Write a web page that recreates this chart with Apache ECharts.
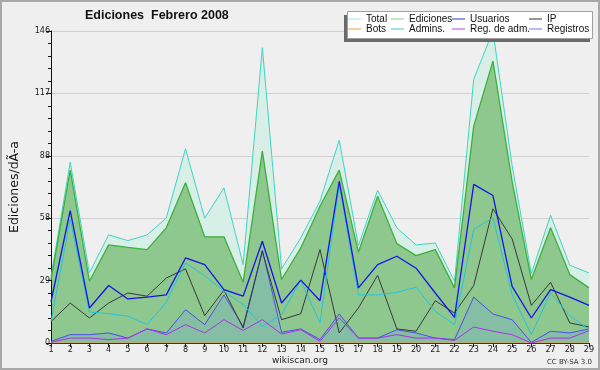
<!DOCTYPE html>
<html><head><meta charset="utf-8">
<script src="https://cdn.jsdelivr.net/npm/echarts@6/dist/echarts.min.js"></script>
<style>html,body{margin:0;padding:0;background:#efefef}#c{width:600px;height:370px}</style>
</head><body><div id="c"></div>
<script>
const days = ['1','2','3','4','5','6','7','8','9','10','11','12','13','14','15','16','17','18','19','20','21','22','23','24','25','26','27','28','29'];
const yTicks = [0, 29, 58, 88, 117, 146];
const total = [31, 84.6, 32.8, 50.6, 47.9, 50.6, 58.4, 90.9, 58.4, 72.6, 36.7, 138.2, 34.7, 49.2, 66.4, 94.9, 45.6, 71.5, 53.9, 45.9, 46.8, 28.9, 123.4, 146, 83, 32.5, 59.8, 36.4, 32.8];
const ediciones = [29.5, 80.9, 28.9, 45.9, 44.7, 43.7, 53.9, 75, 49.7, 49.7, 28.4, 89.8, 29.7, 44.5, 64, 80.9, 42.5, 68.7, 46.5, 40.9, 43.7, 25.8, 101.5, 131.9, 75.5, 29.7, 53.9, 32, 25.8];
const usuarios = [19.3, 62, 16.4, 26.9, 20.6, 21.5, 22.5, 39.8, 36.7, 25, 21.9, 47.6, 18.7, 29.4, 19.8, 75.7, 25.8, 36.7, 40.6, 35, 23.4, 12, 74.2, 69, 26.5, 11.7, 25, 21.5, 17.6];
const ip = [10, 18.7, 11.7, 18.7, 23.4, 21.9, 30.4, 34.7, 12.8, 24.7, 7, 42.9, 10.9, 13.7, 43.7, 4.7, 16.4, 31.7, 6.6, 5.5, 19.8, 14, 26.9, 62.8, 48.7, 17.6, 28.4, 9.4, 7.5];
const bots = [0,0,0,0,0,0,0,0,0,0,0,0,0,0,0,0,0,0,0,0,0,0,0,0,0,0,0,0,0];
const admins = [10, 58, 14.5, 13.7, 12.6, 8.6, 19, 37.5, 31.5, 24.2, 18, 7.8, 13.3, 29.4, 9.4, 74.2, 22.5, 22.5, 23.7, 26.1, 14.8, 8.6, 53.1, 58.6, 22.6, 3.9, 23.4, 12.8, 6.2];
const regAdm = [0.3, 2.3, 2.3, 1.6, 2.3, 6.6, 3.9, 8.6, 4.7, 10.9, 5.9, 10.9, 4.2, 6.2, 0.8, 11.7, 2.3, 2.3, 3.9, 2.3, 2.3, 1.2, 7.5, 5.5, 3.9, 0, 2.3, 2.3, 5.8];
const registros = [0.8, 3.9, 3.9, 4.7, 2.3, 6.6, 4.7, 15.6, 8.6, 22.5, 7.8, 43.5, 5, 6.6, 1.6, 13.6, 2.3, 2.3, 6.2, 4.7, 2.3, 1.6, 21.5, 13.6, 10.9, 0.3, 5.5, 4.7, 6.6];

const chart = echarts.init(document.getElementById('c'), null, {renderer:'canvas'});
const F = "'DejaVu Sans', sans-serif";
const FC = "'DejaVu Sans Condensed', 'DejaVu Sans', sans-serif";
function line(name, data, color, width, extra) {
  return Object.assign({
    name, type:'line', data, symbol:'none', smooth:false, animation:false,
    lineStyle:{color, width}, itemStyle:{color}, emphasis:{disabled:true}, silent:true
  }, extra||{});
}
const legendBase = {orient:'vertical', icon:'rect', itemWidth:13, itemHeight:1, itemGap:0, itemTextGap:4,
  padding:0, top:14, selectedMode:false, z:20,
  textStyle:{fontSize:10, lineHeight:10, fontFamily:"'Liberation Sans', sans-serif", color:'#111'}};
const option = {
  backgroundColor:'#efefef',
  animation:false,
  title:{text:'Ediciones  Febrero 2008', left:85, top:9, padding:0,
    textStyle:{fontSize:12.5, fontWeight:'bold', fontFamily:"'Liberation Sans', sans-serif", color:'#111'}},
  grid:{left:46, right:11, top:31, bottom:27, containLabel:false},
  legend:[
    Object.assign({}, legendBase, {left:348, data:[{name:'Total', itemStyle:{color:'#a4e4dc'}}, {name:'Bots', itemStyle:{color:'#f0a040'}}]}),
    Object.assign({}, legendBase, {left:391, data:[{name:'Ediciones', itemStyle:{color:'#88d088'}}, {name:'Admins.', itemStyle:{color:'#40c8e0'}}]}),
    Object.assign({}, legendBase, {left:452, data:[{name:'Usuarios', itemStyle:{color:'#3030e0'}}, {name:'Reg. de adm.', itemStyle:{color:'#c040e0'}}]}),
    Object.assign({}, legendBase, {left:529, data:[{name:'IP', itemStyle:{color:'#303030'}}, {name:'Registros', itemStyle:{color:'#7070f0'}}]})
  ],
  xAxis:{type:'category', data:days, boundaryGap:false, z:3,
    axisLine:{lineStyle:{color:'#111', width:1}},
    axisTick:{show:true, inside:false, length:4, interval:0, lineStyle:{color:'#111'}},
    axisLabel:{interval:0, margin:2, fontSize:9, fontFamily:FC, color:'#222'},
    splitLine:{show:false}},
  yAxis:{type:'value', min:0, max:146, interval:29.2, z:3,
    name:'Ediciones/dÃ-a', nameLocation:'middle', nameGap:30,
    nameTextStyle:{fontSize:12.5, fontFamily:F, color:'#111'},
    axisLine:{show:true, lineStyle:{color:'#111', width:1}},
    axisTick:{show:true, length:5, lineStyle:{color:'#111'}},
    minorTick:{show:true, splitNumber:5, length:3, lineStyle:{color:'#111'}},
    axisLabel:{margin:1, fontSize:8, fontFamily:F, color:'#222',
      formatter:function(v){ let best=yTicks[0]; for(const t of yTicks){ if(Math.abs(t-v)<Math.abs(best-v)) best=t; } return String(best); }},
    splitLine:{show:true, lineStyle:{color:'rgba(0,0,0,0.13)', width:1}}},
  graphic:[
    {type:'rect', z:10, shape:{x:344, y:15, width:246, height:27}, style:{fill:'#6a6a6a'}},
    {type:'rect', z:11, shape:{x:347.5, y:11.5, width:245, height:27}, style:{fill:'#ffffff', stroke:'#a0a0a0', lineWidth:1}},
    {type:'text', z:11, style:{text:'wikiscan.org', x:300, y:361, textAlign:'center', textVerticalAlign:'middle', font:"9px 'DejaVu Sans', sans-serif", fill:'#222'}},
    {type:'text', z:11, style:{text:'CC BY-SA 3.0', x:592, y:362, textAlign:'right', textVerticalAlign:'middle', font:"7px 'DejaVu Sans', sans-serif", fill:'#333'}},
    {type:'rect', z:30, shape:{x:1, y:1, width:598, height:368}, style:{fill:'none', stroke:'#a8a8a8', lineWidth:2}}
  ],
  series:[
    line('Total', total, '#3ed4c4', 1, {areaStyle:{color:'#d7efe7', opacity:1}}),
    line('Ediciones', ediciones, '#3cb03c', 1.3, {areaStyle:{color:'#8fc88f', opacity:1}}),
    line('Registros', registros, '#4c4cf0', 1, {areaStyle:{color:'#84bea4', opacity:1}}),
    line('Bots', bots, '#f0a040', 1),
    line('IP', ip, '#383838', 1),
    line('Admins.', admins, '#22c4de', 1),
    line('Reg. de adm.', regAdm, '#b030e0', 1),
    line('Usuarios', usuarios, '#1414e6', 1.3)
  ]
};
chart.setOption(option);
</script></body></html>
